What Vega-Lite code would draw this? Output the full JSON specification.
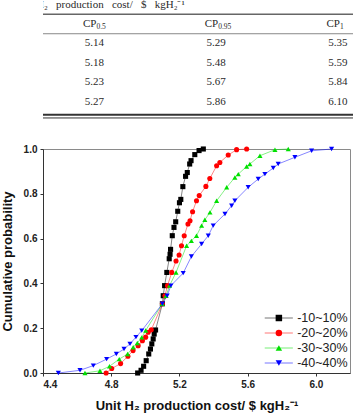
{
  "$schema": "https://vega.github.io/schema/vega-lite/v6.json",
  "padding": 0,
  "background": "white",
  "config": {"font": "Liberation Sans", "view": {"stroke": null}},
  "datasets": {
    "caption": [{"t": "H₂\u2002 production\u2002 cost/\u2002 $\u2002 kgH₂⁻¹"}],
    "header": [
      {"col": "CP0.5", "sub": "0.5"},
      {"col": "CP0.95", "sub": "0.95"},
      {"col": "CP1", "sub": "1"}
    ],
    "cells": [
      {"row": 1, "col": "CP0.5", "val": "5.14"}, {"row": 1, "col": "CP0.95", "val": "5.29"}, {"row": 1, "col": "CP1", "val": "5.35"},
      {"row": 2, "col": "CP0.5", "val": "5.18"}, {"row": 2, "col": "CP0.95", "val": "5.48"}, {"row": 2, "col": "CP1", "val": "5.59"},
      {"row": 3, "col": "CP0.5", "val": "5.23"}, {"row": 3, "col": "CP0.95", "val": "5.67"}, {"row": 3, "col": "CP1", "val": "5.84"},
      {"row": 4, "col": "CP0.5", "val": "5.27"}, {"row": 4, "col": "CP0.95", "val": "5.86"}, {"row": 4, "col": "CP1", "val": "6.10"}
    ],
    "series": [{"s": "-10~10%"}, {"s": "-20~20%"}, {"s": "-30~30%"}, {"s": "-40~40%"}],
    "cdf": [
      {"s": "-10~10%", "c": 4.955, "p": 0.0}, {"s": "-10~10%", "c": 4.975, "p": 0.012}, {"s": "-10~10%", "c": 4.99, "p": 0.03},
      {"s": "-10~10%", "c": 5.005, "p": 0.055}, {"s": "-10~10%", "c": 5.02, "p": 0.085}, {"s": "-10~10%", "c": 5.03, "p": 0.107},
      {"s": "-10~10%", "c": 5.038, "p": 0.13}, {"s": "-10~10%", "c": 5.046, "p": 0.152}, {"s": "-10~10%", "c": 5.052, "p": 0.174},
      {"s": "-10~10%", "c": 5.06, "p": 0.192}, {"s": "-10~10%", "c": 5.1, "p": 0.309}, {"s": "-10~10%", "c": 5.105, "p": 0.345},
      {"s": "-10~10%", "c": 5.113, "p": 0.39}, {"s": "-10~10%", "c": 5.126, "p": 0.449}, {"s": "-10~10%", "c": 5.14, "p": 0.51},
      {"s": "-10~10%", "c": 5.145, "p": 0.53}, {"s": "-10~10%", "c": 5.148, "p": 0.552}, {"s": "-10~10%", "c": 5.158, "p": 0.613},
      {"s": "-10~10%", "c": 5.168, "p": 0.65}, {"s": "-10~10%", "c": 5.178, "p": 0.675}, {"s": "-10~10%", "c": 5.19, "p": 0.722},
      {"s": "-10~10%", "c": 5.2, "p": 0.76}, {"s": "-10~10%", "c": 5.208, "p": 0.775}, {"s": "-10~10%", "c": 5.22, "p": 0.832},
      {"s": "-10~10%", "c": 5.236, "p": 0.878}, {"s": "-10~10%", "c": 5.246, "p": 0.895}, {"s": "-10~10%", "c": 5.26, "p": 0.933},
      {"s": "-10~10%", "c": 5.268, "p": 0.948}, {"s": "-10~10%", "c": 5.29, "p": 0.975}, {"s": "-10~10%", "c": 5.315, "p": 0.993},
      {"s": "-10~10%", "c": 5.34, "p": 1.0},

      {"s": "-20~20%", "c": 4.77, "p": 0.0}, {"s": "-20~20%", "c": 4.803, "p": 0.02}, {"s": "-20~20%", "c": 4.855, "p": 0.042},
      {"s": "-20~20%", "c": 4.898, "p": 0.075}, {"s": "-20~20%", "c": 4.928, "p": 0.1}, {"s": "-20~20%", "c": 4.958, "p": 0.122},
      {"s": "-20~20%", "c": 4.983, "p": 0.144}, {"s": "-20~20%", "c": 5.002, "p": 0.16}, {"s": "-20~20%", "c": 5.017, "p": 0.182},
      {"s": "-20~20%", "c": 5.035, "p": 0.193}, {"s": "-20~20%", "c": 5.1, "p": 0.309}, {"s": "-20~20%", "c": 5.115, "p": 0.345},
      {"s": "-20~20%", "c": 5.13, "p": 0.39}, {"s": "-20~20%", "c": 5.155, "p": 0.449}, {"s": "-20~20%", "c": 5.18, "p": 0.5},
      {"s": "-20~20%", "c": 5.198, "p": 0.527}, {"s": "-20~20%", "c": 5.212, "p": 0.568}, {"s": "-20~20%", "c": 5.228, "p": 0.613},
      {"s": "-20~20%", "c": 5.25, "p": 0.665}, {"s": "-20~20%", "c": 5.262, "p": 0.68}, {"s": "-20~20%", "c": 5.277, "p": 0.72},
      {"s": "-20~20%", "c": 5.3, "p": 0.769}, {"s": "-20~20%", "c": 5.316, "p": 0.792}, {"s": "-20~20%", "c": 5.355, "p": 0.833},
      {"s": "-20~20%", "c": 5.378, "p": 0.868}, {"s": "-20~20%", "c": 5.418, "p": 0.925}, {"s": "-20~20%", "c": 5.437, "p": 0.94},
      {"s": "-20~20%", "c": 5.486, "p": 0.973}, {"s": "-20~20%", "c": 5.535, "p": 0.997}, {"s": "-20~20%", "c": 5.594, "p": 1.0},

      {"s": "-30~30%", "c": 4.646, "p": 0.0}, {"s": "-30~30%", "c": 4.734, "p": 0.01}, {"s": "-30~30%", "c": 4.79, "p": 0.03},
      {"s": "-30~30%", "c": 4.847, "p": 0.062}, {"s": "-30~30%", "c": 4.896, "p": 0.085}, {"s": "-30~30%", "c": 4.929, "p": 0.115},
      {"s": "-30~30%", "c": 4.953, "p": 0.134}, {"s": "-30~30%", "c": 4.979, "p": 0.159}, {"s": "-30~30%", "c": 5.002, "p": 0.19},
      {"s": "-30~30%", "c": 5.1, "p": 0.309}, {"s": "-30~30%", "c": 5.122, "p": 0.345}, {"s": "-30~30%", "c": 5.142, "p": 0.39},
      {"s": "-30~30%", "c": 5.18, "p": 0.449}, {"s": "-30~30%", "c": 5.242, "p": 0.568}, {"s": "-30~30%", "c": 5.27, "p": 0.59},
      {"s": "-30~30%", "c": 5.3, "p": 0.613}, {"s": "-30~30%", "c": 5.33, "p": 0.658}, {"s": "-30~30%", "c": 5.349, "p": 0.684},
      {"s": "-30~30%", "c": 5.379, "p": 0.717}, {"s": "-30~30%", "c": 5.418, "p": 0.769}, {"s": "-30~30%", "c": 5.477, "p": 0.829},
      {"s": "-30~30%", "c": 5.525, "p": 0.873}, {"s": "-30~30%", "c": 5.545, "p": 0.888}, {"s": "-30~30%", "c": 5.594, "p": 0.922},
      {"s": "-30~30%", "c": 5.613, "p": 0.933}, {"s": "-30~30%", "c": 5.672, "p": 0.97}, {"s": "-30~30%", "c": 5.76, "p": 0.997},
      {"s": "-30~30%", "c": 5.838, "p": 1.0},

      {"s": "-40~40%", "c": 4.49, "p": 0.0}, {"s": "-40~40%", "c": 4.617, "p": 0.012}, {"s": "-40~40%", "c": 4.695, "p": 0.033},
      {"s": "-40~40%", "c": 4.773, "p": 0.062}, {"s": "-40~40%", "c": 4.83, "p": 0.085}, {"s": "-40~40%", "c": 4.875, "p": 0.107},
      {"s": "-40~40%", "c": 4.91, "p": 0.13}, {"s": "-40~40%", "c": 4.945, "p": 0.16}, {"s": "-40~40%", "c": 4.979, "p": 0.189},
      {"s": "-40~40%", "c": 5.1, "p": 0.309}, {"s": "-40~40%", "c": 5.128, "p": 0.345}, {"s": "-40~40%", "c": 5.15, "p": 0.39},
      {"s": "-40~40%", "c": 5.222, "p": 0.446}, {"s": "-40~40%", "c": 5.27, "p": 0.52}, {"s": "-40~40%", "c": 5.33, "p": 0.576},
      {"s": "-40~40%", "c": 5.369, "p": 0.613}, {"s": "-40~40%", "c": 5.398, "p": 0.658}, {"s": "-40~40%", "c": 5.467, "p": 0.71},
      {"s": "-40~40%", "c": 5.506, "p": 0.747}, {"s": "-40~40%", "c": 5.525, "p": 0.769}, {"s": "-40~40%", "c": 5.603, "p": 0.829},
      {"s": "-40~40%", "c": 5.662, "p": 0.866}, {"s": "-40~40%", "c": 5.701, "p": 0.888}, {"s": "-40~40%", "c": 5.75, "p": 0.915},
      {"s": "-40~40%", "c": 5.779, "p": 0.933}, {"s": "-40~40%", "c": 5.877, "p": 0.963}, {"s": "-40~40%", "c": 5.975, "p": 0.992},
      {"s": "-40~40%", "c": 6.092, "p": 1.0}
    ]
  },
  "columns": 1,
  "align": "none",
  "spacing": 22,
  "resolve": {
    "scale": {"color": "independent", "shape": "independent"},
    "legend": {"color": "independent", "shape": "independent"}
  },
  "concat": [
    {
      "width": 353,
      "height": 120.5,
      "layer": [
        {
          "data": {"name": "caption"},
          "mark": {"type": "text", "align": "left", "baseline": "middle", "dx": -58.5, "clip": true, "font": "Liberation Serif", "fontSize": 11, "color": "#2a2a2a"},
          "encoding": {
            "x": {"datum": "CP0.5", "type": "nominal", "scale": {"type": "point", "domain": ["CP0.5", "CP0.95", "CP1"], "padding": 0.45, "align": 0.47}, "axis": null},
            "y": {"datum": -0.95, "type": "quantitative", "scale": {"domain": [-1.2308, 4.95], "reverse": true, "nice": false, "zero": false}, "axis": null},
            "text": {"field": "t"}
          }
        },
        {
          "data": {"values": [{}]},
          "mark": {"type": "rule", "stroke": "#666", "strokeWidth": 1.4},
          "encoding": {"y": {"datum": -0.5, "type": "quantitative"}}
        },
        {
          "data": {"values": [{}]},
          "mark": {"type": "rule", "stroke": "#888", "strokeWidth": 1},
          "encoding": {"y": {"datum": 0.5, "type": "quantitative"}}
        },
        {
          "data": {"values": [{}]},
          "mark": {"type": "rule", "stroke": "#333", "strokeWidth": 2},
          "encoding": {"y": {"datum": 4.66, "type": "quantitative"}}
        },
        {
          "data": {"values": [{}]},
          "mark": {"type": "rule", "stroke": "#333", "strokeWidth": 1},
          "encoding": {"y": {"datum": 4.82, "type": "quantitative"}}
        },
        {
          "data": {"name": "header"},
          "mark": {"type": "text", "text": "CP", "align": "right", "dx": 2, "font": "Liberation Serif", "fontSize": 11, "color": "#2a2a2a"},
          "encoding": {
            "x": {"field": "col", "type": "nominal"},
            "y": {"datum": 0, "type": "quantitative"}
          }
        },
        {
          "data": {"name": "header"},
          "mark": {"type": "text", "align": "left", "dx": 2, "dy": 3.5, "font": "Liberation Serif", "fontSize": 7.5, "color": "#2a2a2a"},
          "encoding": {
            "x": {"field": "col", "type": "nominal"},
            "y": {"datum": 0, "type": "quantitative"},
            "text": {"field": "sub"}
          }
        },
        {
          "data": {"name": "cells"},
          "mark": {"type": "text", "font": "Liberation Serif", "fontSize": 11, "color": "#2a2a2a"},
          "encoding": {
            "x": {"field": "col", "type": "nominal"},
            "y": {"field": "row", "type": "quantitative"},
            "text": {"field": "val"}
          }
        }
      ]
    },
    {
      "width": 307,
      "height": 224,
      "view": {"stroke": "#8a8a8a", "strokeWidth": 1},
      "resolve": {"scale": {"y": "independent"}, "axis": {"y": "independent"}},
      "layer": [
        {
          "data": {"name": "cdf"},
          "encoding": {
            "x": {
              "field": "c", "type": "quantitative",
              "scale": {"domain": [4.4, 6.2], "nice": false, "zero": false},
              "axis": {
                "values": [4.4, 4.8, 5.2, 5.6, 6.0], "format": ".1f", "grid": false,
                "title": "Unit H₂ production cost/ $ kgH₂⁻¹",
                "tickSize": 3, "tickColor": "#333", "domainColor": "#333",
                "labelFontSize": 10, "labelFontWeight": "bold", "labelColor": "#222", "labelPadding": 3,
                "titleFontSize": 13, "titleFontWeight": "bold", "titleColor": "#111", "titlePadding": 10
              }
            },
            "y": {
              "field": "p", "type": "quantitative",
              "scale": {"domain": [0, 1], "nice": false},
              "axis": {
                "values": [0, 0.2, 0.4, 0.6, 0.8, 1.0], "format": ".1f", "grid": false,
                "title": "Cumulative probability",
                "tickSize": 3, "tickColor": "#333", "domainColor": "#333",
                "labelFontSize": 10, "labelFontWeight": "bold", "labelColor": "#222", "labelPadding": 3,
                "titleFontSize": 13, "titleFontWeight": "bold", "titleColor": "#111", "titlePadding": 9
              }
            }
          },
          "layer": [
            {
              "mark": {"type": "line", "strokeWidth": 0.8, "opacity": 0.6},
              "encoding": {
                "color": {
                  "field": "s", "type": "nominal",
                  "scale": {"domain": ["-10~10%", "-20~20%", "-30~30%", "-40~40%"], "range": ["#000000", "#ff0000", "#00e000", "#0000ff"]},
                  "legend": null
                }
              }
            },
            {
              "mark": {"type": "point", "filled": true, "opacity": 1, "size": 26},
              "encoding": {
                "color": {"field": "s", "type": "nominal", "legend": null},
                "shape": {
                  "field": "s", "type": "nominal",
                  "scale": {"domain": ["-10~10%", "-20~20%", "-30~30%", "-40~40%"], "range": ["square", "circle", "triangle-up", "triangle-down"]},
                  "legend": null
                }
              }
            },
            {
              "data": {"values": [{}]},
              "mark": {"type": "rule", "strokeDash": [1.5, 1.5], "stroke": "#444", "strokeWidth": 0.8},
              "encoding": {"x": {"datum": 4.4}, "x2": {"datum": 5.1}, "y": {"datum": 0.309}}
            },
            {
              "data": {"values": [{}]},
              "mark": {"type": "rule", "strokeDash": [1.5, 1.5], "stroke": "#444", "strokeWidth": 0.8},
              "encoding": {"x": {"datum": 5.1}, "y": {"datum": 0}, "y2": {"datum": 0.309}}
            },
            {
              "data": {"values": [{}]},
              "mark": {"type": "point", "shape": "triangle-left", "filled": true, "size": 10, "color": "#333"},
              "encoding": {"x": {"datum": 4.4}, "y": {"datum": 0.309}}
            },
            {
              "data": {"values": [{}]},
              "mark": {"type": "point", "shape": "triangle-down", "filled": true, "size": 10, "color": "#333"},
              "encoding": {"x": {"datum": 5.1}, "y": {"datum": 0}}
            },
            {
              "data": {"values": [{"t": "0.309"}]},
              "mark": {"type": "text", "align": "right", "baseline": "middle", "dx": -2, "fontSize": 8.5, "fontWeight": "bold", "color": "#ff2a2a"},
              "encoding": {"x": {"datum": 4.4}, "y": {"datum": 0.309}, "text": {"field": "t"}}
            },
            {
              "data": {"values": [{"t": "5.10"}]},
              "mark": {"type": "text", "align": "left", "baseline": "middle", "dx": 3, "dy": -7, "fontSize": 8.5, "fontWeight": "bold", "color": "#ff2a2a"},
              "encoding": {"x": {"datum": 5.1}, "y": {"datum": 0}, "text": {"field": "t"}}
            }
          ]
        },
        {
          "data": {"name": "series"},
          "encoding": {
            "y": {
              "field": "s", "type": "nominal",
              "scale": {"type": "point", "domain": ["-10~10%", "-20~20%", "-30~30%", "-40~40%"], "range": [169, 214], "padding": 0},
              "axis": null
            }
          },
          "layer": [
            {
              "mark": {"type": "rule", "strokeWidth": 0.9, "opacity": 0.6},
              "encoding": {
                "x": {"datum": 5.70},
                "x2": {"datum": 5.865},
                "color": {"field": "s", "type": "nominal", "legend": null}
              }
            },
            {
              "mark": {"type": "point", "filled": true, "opacity": 1, "size": 42},
              "encoding": {
                "x": {"datum": 5.783},
                "color": {"field": "s", "type": "nominal", "legend": null},
                "shape": {"field": "s", "type": "nominal", "legend": null}
              }
            },
            {
              "mark": {"type": "text", "align": "left", "baseline": "middle", "fontSize": 12.5, "color": "#222"},
              "encoding": {
                "x": {"datum": 5.89},
                "text": {"field": "s"}
              }
            }
          ]
        }
      ]
    }
  ]
}
